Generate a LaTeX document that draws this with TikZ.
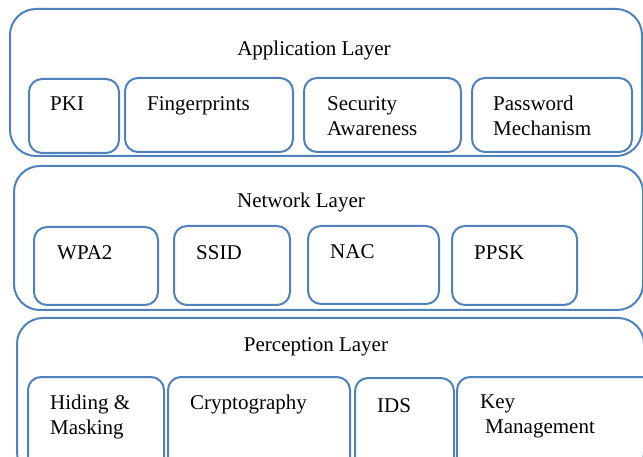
\documentclass[tikz,border=0pt]{standalone}
\usepackage{fontspec}
\setmainfont{Liberation Serif}
\usepackage{xcolor}
\usepackage{tikz}
\definecolor{layerblue}{HTML}{4F81BD}

\begin{document}
\begin{tikzpicture}[
  x=1pt,y=-1pt,
  layer/.style={draw=layerblue,line width=2pt,rounded corners=26pt,
    anchor=north west,inner sep=0pt},
  cell/.style={draw=layerblue,line width=2pt,rounded corners=13pt,
    anchor=north west,inner sep=0pt},
  title/.style={anchor=base,inner sep=0pt,font=\fontsize{21}{25}\selectfont},
  celltext/.style={anchor=north west,inner sep=0pt,align=left,
    font=\fontsize{21}{25}\selectfont}
]
\useasboundingbox (0,0) rectangle (643,457);
% layers
\node[layer,minimum width=632pt,minimum height=147pt] (app) at (9,8) {};
\node[layer,minimum width=629pt,minimum height=144pt] (net) at (13,165) {};
\node[layer,minimum width=627pt,minimum height=160pt] (per) at (16,317) {};
\node[title] (apptitle) at (314,56) {Application Layer};
\node[title] (nettitle) at (301,208) {Network Layer};
\node[title] (pertitle) at (316,352) {Perception Layer};
% application layer
\node[cell,minimum width=90pt,minimum height=74pt] (pki) at (28,78) {};
\node[cell,minimum width=168pt,minimum height=74pt] (finger) at (124,77) {};
\node[cell,minimum width=157pt,minimum height=74pt] (aware) at (303,77) {};
\node[cell,minimum width=160pt,minimum height=74pt] (passwd) at (471,77) {};
\node[celltext] (pkitext) at ([shift={(22,19)}]pki.north west) {PKI};
\node[celltext] (fingertext) at ([shift={(23,19)}]finger.north west) {Fingerprints};
\node[celltext] (awaretext) at ([shift={(24,19)}]aware.north west) {Security\\Awareness};
\node[celltext] (passwdtext) at ([shift={(22,19)}]passwd.north west) {Password\\Mechanism};
% network layer
\node[cell,minimum width=124pt,minimum height=78pt] (wpa) at (33,226) {};
\node[cell,minimum width=116pt,minimum height=79pt] (ssid) at (173,225) {};
\node[cell,minimum width=131pt,minimum height=78pt] (nac) at (307,225) {};
\node[cell,minimum width=125pt,minimum height=79pt] (ppsk) at (451,225) {};
\node[celltext] (wpatext) at ([shift={(24,19)}]wpa.north west) {WPA2};
\node[celltext] (ssidtext) at ([shift={(23,20)}]ssid.north west) {SSID};
\node[celltext] (nactext) at ([shift={(23,19)}]nac.north west) {NAC};
\node[celltext] (ppsktext) at ([shift={(23,20)}]ppsk.north west) {PPSK};
% perception layer
\node[cell,minimum width=136pt,minimum height=100pt] (hide) at (27,376) {};
\node[cell,minimum width=182pt,minimum height=100pt] (crypto) at (167,376) {};
\node[cell,minimum width=99pt,minimum height=100pt] (ids) at (354,377) {};
\node[cell,minimum width=200pt,minimum height=100pt] (keymgmt) at (456,376) {};
\node[celltext] (hidetext) at ([shift={(23,19)}]hide.north west) {Hiding \&\\Masking};
\node[celltext] (cryptotext) at ([shift={(23,19)}]crypto.north west) {Cryptography};
\node[celltext] (idstext) at ([shift={(23,21)}]ids.north west) {IDS};
\node[celltext] (keymgmttext) at ([shift={(24,19)}]keymgmt.north west) {Key\\\hspace*{5pt}Management};
\end{tikzpicture}
\end{document}
